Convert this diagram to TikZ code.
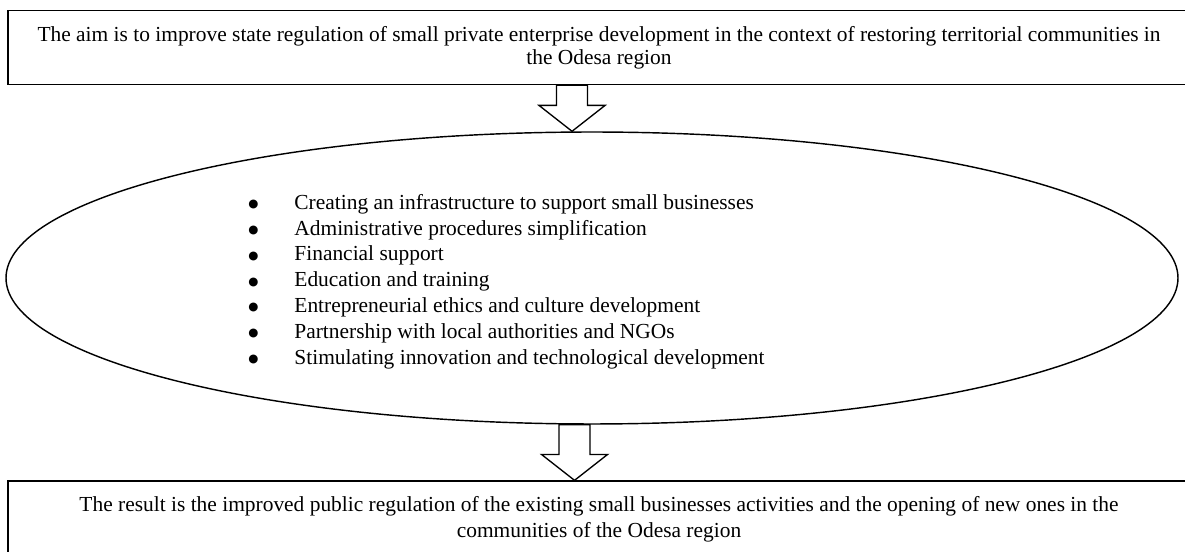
\documentclass[tikz,border=0pt]{standalone}
\usepackage{fontspec}
\setmainfont{Liberation Serif}
\newfontfamily\dotfont{DejaVu Sans}
\usetikzlibrary{calc,shapes.geometric}

% hollow block arrow pointing down from #1 to the tip #2
\newcommand\hollowarrow[2]{%
  \draw[hollow] let \p1=(#1), \p2=(#2) in
    (\x1-8.7pt,\y1) -- (\x1-8.7pt,\y2+14.5pt) -- (\x1-18.5pt,\y2+14.5pt) -- (\x2,\y2)
    -- (\x1+18.5pt,\y2+14.5pt) -- (\x1+8.7pt,\y2+14.5pt) -- (\x1+8.7pt,\y1) -- cycle;}
\newcommand\bulletline[1]{\makebox[25.8pt][l]{\raisebox{0.9pt}{\dotfont\fontsize{6.5pt}{0pt}\selectfont ●}}#1}

\begin{document}
\begin{tikzpicture}[
  x=0.56pt,y=-0.56pt,
  font=\fontsize{12pt}{13pt}\selectfont,
  goal/.style={draw=black, line width=0.75pt, minimum width=661.9pt, align=center, inner sep=0pt},
  plan/.style={ellipse, draw=black, line width=0.8pt, minimum width=656.3pt, minimum height=163.5pt, inner sep=0pt},
  steps/.style={anchor=west, align=left, inner sep=0pt, font=\fontsize{12pt}{14.45pt}\selectfont},
  hollow/.style={draw=black, line width=0.75pt, fill=white, line join=miter}
]
\useasboundingbox (0,0) rectangle (1185,552);

% Aim on top
\node[goal, minimum height=41.3pt] (aim) at (599,47.6)
  {The aim is to improve state regulation of small private enterprise development in the context of restoring territorial communities in\\the Odesa region};

% Measures in the ellipse
\node[plan] (measures) at (592,278) {};
\node[steps] (list) at (248,281.5) {%
  \bulletline{Creating an infrastructure to support small businesses}\\
  \bulletline{Administrative procedures simplification}\\
  \bulletline{Financial support}\\
  \bulletline{Education and training}\\
  \bulletline{Entrepreneurial ethics and culture development}\\
  \bulletline{Partnership with local authorities and NGOs}\\
  \bulletline{Stimulating innovation and technological development}};

% Result at the bottom
\node[goal, minimum height=43.1pt, font=\fontsize{12pt}{14.4pt}\selectfont] (result) at (599,519.5)
  {The result is the improved public regulation of the existing small businesses activities and the opening of new ones in the\\communities of the Odesa region};

% Arrows
\coordinate (aimfoot) at ([xshift=-15.1pt]aim.south);
\coordinate (resulttop) at ([xshift=-13.7pt]result.north);
\hollowarrow{aimfoot}{aimfoot |- measures.north}
\hollowarrow{resulttop |- measures.south}{resulttop}

\end{tikzpicture}
\end{document}
